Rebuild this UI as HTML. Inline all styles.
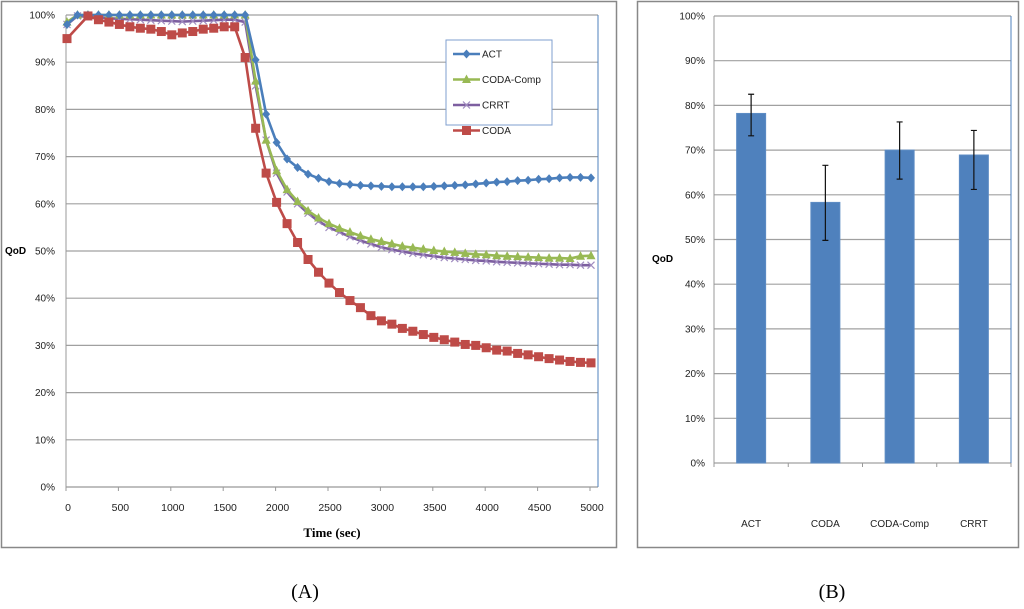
<!DOCTYPE html>
<html><head><meta charset="utf-8"><style>
body{margin:0;background:#fff;width:1024px;height:604px;overflow:hidden;font-family:"Liberation Sans",sans-serif}
svg text{font-family:"Liberation Sans",sans-serif}
</style></head><body>
<svg id="svg" width="1024" height="604" xmlns="http://www.w3.org/2000/svg">
<rect x="1.5" y="1.5" width="615" height="546" fill="#fff" stroke="#888" stroke-width="1.5"/>
<rect x="637.5" y="1.5" width="381" height="546" fill="#fff" stroke="#888" stroke-width="1.5"/>
<g id="ga"></g>
<g id="gb"></g>
<text x="305" y="598" font-size="20" text-anchor="middle" style="font-family:'Liberation Serif',serif">(A)</text>
<text x="832" y="598" font-size="20" text-anchor="middle" style="font-family:'Liberation Serif',serif">(B)</text>
</svg>
<script>
const NS='http://www.w3.org/2000/svg';
const times=[];for(let t=0;t<=5000;t+=100)times.push(t);
const xTicks=[0,500,1000,1500,2000,2500,3000,3500,4000,4500,5000];
const yTicks=[0,10,20,30,40,50,60,70,80,90,100];
const actVals=[98,100,100,100,100,100,100,100,100,100,100,100,100,100,100,100,100,100,90.5,79,73,69.5,67.7,66.3,65.4,64.7,64.3,64.1,63.9,63.8,63.7,63.6,63.6,63.6,63.6,63.7,63.8,63.9,64.0,64.2,64.4,64.6,64.7,64.9,65.0,65.2,65.3,65.5,65.6,65.6,65.5];
const compVals=[98.5,100,100,100,100,100,100,100,100,100,100,100,100,100,100,100,100,100,86,73.5,67,63,60.5,58.5,57,55.8,54.8,54,53.2,52.5,52,51.5,51,50.7,50.4,50.1,49.9,49.7,49.5,49.3,49.2,49,48.9,48.8,48.7,48.6,48.5,48.5,48.4,48.9,49];
const crrtVals=[98,99.8,99.6,99.5,99.3,99.2,99.1,99,98.9,98.8,98.7,98.6,98.7,98.8,98.9,99,99,98.5,85,73.5,66.5,62.5,60,58,56.3,55,54,53,52.2,51.5,50.8,50.3,49.9,49.5,49.2,48.9,48.6,48.4,48.2,48,47.9,47.7,47.6,47.5,47.4,47.3,47.2,47.1,47.1,47,47];
const codaVals=[95,null,99.8,99,98.5,98,97.5,97.2,97,96.5,95.8,96.2,96.5,97,97.2,97.5,97.5,91,76,66.5,60.3,55.8,51.8,48.2,45.5,43.2,41.2,39.5,38,36.3,35.2,34.5,33.6,33,32.3,31.7,31.2,30.7,30.2,30,29.5,29,28.8,28.3,28,27.6,27.2,26.9,26.6,26.4,26.3];
const barCats=['ACT','CODA','CODA-Comp','CRRT'];
const barVals=[78.2,58.3,70.0,68.9];
const barLow=[73.2,49.8,63.5,61.2];
const barHigh=[82.5,66.6,76.3,74.4];

function mk(tag,attrs,parent,txt){const e=document.createElementNS(NS,tag);for(const k in attrs)e.setAttribute(k,attrs[k]);if(txt!==undefined)e.textContent=txt;parent.appendChild(e);return e;}
// chart A
const ga=document.getElementById('ga');
const ax=t=>67+(t/5000)*524, ay=v=>487-v*4.72;
const L=66,R=598;
for(const v of yTicks){
 const g=mk('line',{x1:L,x2:R,y1:ay(v),y2:ay(v),stroke:v===0?'#999':'#a0a0a0','stroke-width':1.2},ga);
 
 const t=mk('text',{x:55,y:ay(v)+3.5,'font-size':10,'text-anchor':'end',fill:'#222'},ga,v+'%');
 
}
const bx=mk('line',{x1:R,x2:R,y1:ay(100),y2:ay(0),stroke:'#4f81bd','stroke-width':1},ga);

const yl=mk('line',{x1:L,x2:L,y1:ay(100),y2:ay(0),stroke:'#999','stroke-width':1},ga);

for(const t of xTicks){
 const l=mk('line',{x1:ax(t)-1,x2:ax(t)-1,y1:ay(0),y2:ay(0)+4,stroke:'#999'},ga);
 
 const tx=mk('text',{x:ax(t)+1,y:511,'font-size':10.5,'text-anchor':'middle',fill:'#222'},ga,t);
 
}
const xt=mk('text',{x:332,y:537,'font-size':13,'font-weight':'bold','text-anchor':'middle',style:"font-family:'Liberation Serif',serif"},ga,'Time (sec)');

const yt=mk('text',{x:5,y:254,'font-size':10,'font-weight':'bold'},ga,'QoD');


function marker(kind,x,y,col,p){
 let e;
 if(kind==='diamond')e=mk('polygon',{points:`${x},${y-4.5} ${x+4},${y} ${x},${y+4.5} ${x-4},${y}`,fill:col},p);
 else if(kind==='tri')e=mk('polygon',{points:`${x},${y-5} ${x+4.5},${y+3.5} ${x-4.5},${y+3.5}`,fill:col},p);
 else if(kind==='x'){e=mk('path',{d:`M${x-3.5},${y-3.5}L${x+3.5},${y+3.5}M${x-3.5},${y+3.5}L${x+3.5},${y-3.5}`,stroke:col,'stroke-width':1.2,fill:'none'},p);}
 else e=mk('rect',{x:x-4.5,y:y-4.5,width:9,height:9,fill:col},p);
 return e;
}
const series=[
 {name:'CRRT',vals:crrtVals,col:'#7d5fa0',m:'x',mc:'#a08cc0'},
 {name:'CODA-Comp',vals:compVals,col:'#98b954',m:'tri',mc:'#98b954'},
 {name:'ACT',vals:actVals,col:'#4a7ebb',m:'diamond',mc:'#4a7ebb'},
 {name:'CODA',vals:codaVals,col:'#be4b48',m:'sq',mc:'#be4b48'}];
for(const s of series){
 const g=mk('g',{},ga);
 
 let d='';times.forEach((t,i)=>{const v=s.vals[i];if(v===null)return;d+=(d?'L':'M')+ax(t)+','+ay(v);});
 const p=mk('path',{d,fill:'none',stroke:s.col,'stroke-width':2.6,'stroke-linejoin':'round'},g);
 
 times.forEach((t,i)=>{const v=s.vals[i];if(v===null)return;const m=marker(s.m,ax(t),ay(v),s.mc,g);
  });
}
// legend
const lg=mk('g',{},ga);

mk('rect',{x:446,y:40,width:106,height:85,fill:'#fff',stroke:'#7f9fcf','stroke-width':1},lg);
const legOrder=[series[2],series[1],series[0],series[3]];
legOrder.forEach((s,i)=>{const y=54+i*25.5;
 const e=mk('g',{},lg);
 mk('line',{x1:453,x2:480,y1:y,y2:y,stroke:s.col,'stroke-width':2.6},e);
 marker(s.m,466.5,y,s.mc,e);
 mk('text',{x:482,y:y+3.5,'font-size':10,fill:'#222'},e,s.name);
});
// chart B
const gb=document.getElementById('gb');
const bL=714,bR=1011,by=v=>463-v*4.47;
for(const v of yTicks){
 const g=mk('line',{x1:bL,x2:bR,y1:by(v),y2:by(v),stroke:'#a0a0a0','stroke-width':1.2},gb);
 
 const t=mk('text',{x:705,y:by(v)+3.5,'font-size':10,'text-anchor':'end',fill:'#222'},gb,v+'%');
 
}
mk('line',{x1:bR,x2:bR,y1:by(100),y2:by(0),stroke:'#4f81bd'},gb);
mk('line',{x1:bL,x2:bL,y1:by(100),y2:by(0)+4,stroke:'#999'},gb);
const bw=(bR-bL)/barCats.length;
for(let i=0;i<=barCats.length;i++)mk('line',{x1:bL+i*bw,x2:bL+i*bw,y1:by(0),y2:by(0)+4,stroke:'#999'},gb);
barCats.forEach((c,i)=>{const cx=bL+bw*(i+0.5);
 const r=mk('rect',{x:cx-14.5,y:by(barVals[i]),width:29,height:by(0)-by(barVals[i]),fill:'#4f81bd',stroke:'#5d8cc4'},gb);
 
 const e=mk('path',{d:`M${cx},${by(barHigh[i])}V${by(barLow[i])}M${cx-3},${by(barHigh[i])}H${cx+3}M${cx-3},${by(barLow[i])}H${cx+3}`,stroke:'#111','stroke-width':1.2,fill:'none'},gb);
 
 const t=mk('text',{x:cx,y:527,'font-size':10,'text-anchor':'middle',fill:'#222'},gb,c);
 
});
const qb=mk('text',{x:652,y:262,'font-size':10,'font-weight':'bold'},gb,'QoD');

</script>
</body></html>
